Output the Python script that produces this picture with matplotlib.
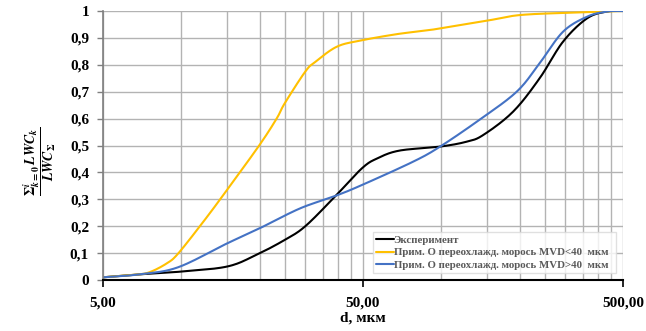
import numpy as np
import matplotlib
matplotlib.use("Agg")
import matplotlib.pyplot as plt
from matplotlib.ticker import FixedLocator, FixedFormatter, NullFormatter

# ---- data ----
d_exp = [5, 6.9, 9.9, 15, 19.4, 25, 30, 39, 49.5, 56.7, 69, 99, 125, 145, 189, 239, 294, 364, 434, 500]
v_exp = [0.01, 0.021, 0.031, 0.05, 0.093, 0.149, 0.2, 0.31, 0.415, 0.452, 0.481, 0.496, 0.514, 0.539,
         0.626, 0.75, 0.886, 0.973, 0.998, 1.0]

d_lt40 = [5, 6.74, 7.6, 8.8, 9.74, 12.3, 15, 20, 23.3, 25, 30, 32.7, 39.6, 48.8, 67.5, 87, 100, 150, 201, 319, 500]
v_lt40 = [0.01, 0.02, 0.03, 0.062, 0.099, 0.223, 0.335, 0.502, 0.601, 0.657, 0.775, 0.81, 0.867, 0.89,
          0.914, 0.927, 0.936, 0.964, 0.985, 0.994, 1.0]

d_gt40 = [5, 6.9, 9.7, 15, 20, 28.6, 39, 49.5, 78, 99, 140, 195, 239, 294, 364, 434, 500]
v_gt40 = [0.01, 0.021, 0.047, 0.136, 0.192, 0.266, 0.312, 0.353, 0.44, 0.496, 0.595, 0.7, 0.806,
          0.923, 0.979, 0.998, 1.0]

series_names = ["Эксперимент",
                "Прим. О переохлажд. морось MVD<40  мкм",
                "Прим. О переохлажд. морось MVD>40  мкм"]
series_colors = ["#000000", "#FFC000", "#4472C4"]

x_major = [5, 50, 500]
x_major_labels = ["5,00", "50,00", "500,00"]
x_minor = [10, 15, 20, 25, 30, 35, 40, 45, 100, 150, 200, 250, 300, 350, 400, 450]
y_ticks = [0, 0.1, 0.2, 0.3, 0.4, 0.5, 0.6, 0.7, 0.8, 0.9, 1.0]
y_labels = ["0", "0,1", "0,2", "0,3", "0,4", "0,5", "0,6", "0,7", "0,8", "0,9", "1"]


def smooth(xs, ys, n=20):
    """Catmull-Rom smoothing in (log x, y) space, like Excel smoothed lines."""
    lx = np.log10(np.asarray(xs, float))
    y = np.asarray(ys, float)
    P = np.column_stack([lx, y])
    P = np.vstack([P[0] - (P[1] - P[0]), P, P[-1] + (P[-1] - P[-2])])
    out = []
    t = np.linspace(0, 1, n, endpoint=False)[:, None]
    for i in range(1, len(P) - 2):
        p0, p1, p2, p3 = P[i - 1], P[i], P[i + 1], P[i + 2]
        seg = 0.5 * ((2 * p1) + (-p0 + p2) * t + (2 * p0 - 5 * p1 + 4 * p2 - p3) * t ** 2
                     + (-p0 + 3 * p1 - 3 * p2 + p3) * t ** 3)
        out.append(seg)
    out.append(P[-2][None, :])
    S = np.vstack(out)
    return 10 ** S[:, 0], S[:, 1]


plt.rcParams['font.family'] = ['Liberation Serif', 'DejaVu Serif']
plt.rcParams['mathtext.fontset'] = 'stix'

fig = plt.figure(figsize=(6.46, 3.31), dpi=100)
ax = fig.add_axes([103 / 646, 51 / 331, 520 / 646, 269 / 331])

for (dx, vy), name, col in zip([(d_exp, v_exp), (d_lt40, v_lt40), (d_gt40, v_gt40)],
                               series_names, series_colors):
    sx, sy = smooth(dx, vy)
    ax.plot(sx, sy, color=col, lw=1.5, label=name, solid_capstyle='round')

ax.set_xscale('log')
ax.set_xlim(5, 500)
ax.set_ylim(0, 1)

ax.xaxis.set_major_locator(FixedLocator(x_major))
ax.xaxis.set_major_formatter(FixedFormatter(x_major_labels))
ax.xaxis.set_minor_locator(FixedLocator(x_minor))
ax.xaxis.set_minor_formatter(NullFormatter())
ax.yaxis.set_major_locator(FixedLocator(y_ticks))
ax.yaxis.set_major_formatter(FixedFormatter(y_labels))

grid_col = "#B3B3B3"
ax.grid(True, which='both', axis='x', color=grid_col, lw=1.0)
ax.grid(True, which='major', axis='y', color=grid_col, lw=1.0)
ax.set_axisbelow(True)

ax.tick_params(axis='x', which='major', length=5, width=1.2, color='black', pad=7,
               labelsize=11)
ax.tick_params(axis='x', which='minor', length=0)
ax.tick_params(axis='y', which='major', length=4, width=1.0, color='#7F7F7F', pad=6,
               labelsize=11)
for lab in ax.get_xticklabels() + ax.get_yticklabels():
    lab.set_fontweight('bold')

for s in ['top', 'right']:
    ax.spines[s].set_visible(False)
ax.spines['left'].set_color('#7F7F7F')
ax.spines['left'].set_linewidth(1.2)
ax.spines['bottom'].set_color('black')
ax.spines['bottom'].set_linewidth(1.5)

ax.set_xlabel("d, мкм", fontsize=11, fontweight='bold', labelpad=1)
ylab = ax.set_ylabel(r"$\dfrac{\mathbf{\Sigma}_{\mathbfit{k}\mathbf{=0}}^{\mathbfit{i}}\,\mathbfit{LWC}_{\mathbfit{k}}}{\mathbfit{LWC}_{\mathbf{\Sigma}}}$",
                     fontsize=10)
ax.yaxis.set_label_coords(-0.086, 0.44)

leg = ax.legend(loc='lower left', bbox_to_anchor=(373 / 646, (331 - 273) / 331, 243 / 646, 41 / 331),
                bbox_transform=fig.transFigure, mode='expand',
                frameon=True, fancybox=False, fontsize=7.8, handlelength=1.6,
                handletextpad=0.0, borderpad=0.3, labelspacing=0.25, borderaxespad=0)
leg.get_frame().set_edgecolor('#D9D9D9')
leg.get_frame().set_linewidth(1.0)
for t in leg.get_texts():
    t.set_color('#595959')
    t.set_fontweight('bold')

fig.savefig("out.png", dpi=100)
